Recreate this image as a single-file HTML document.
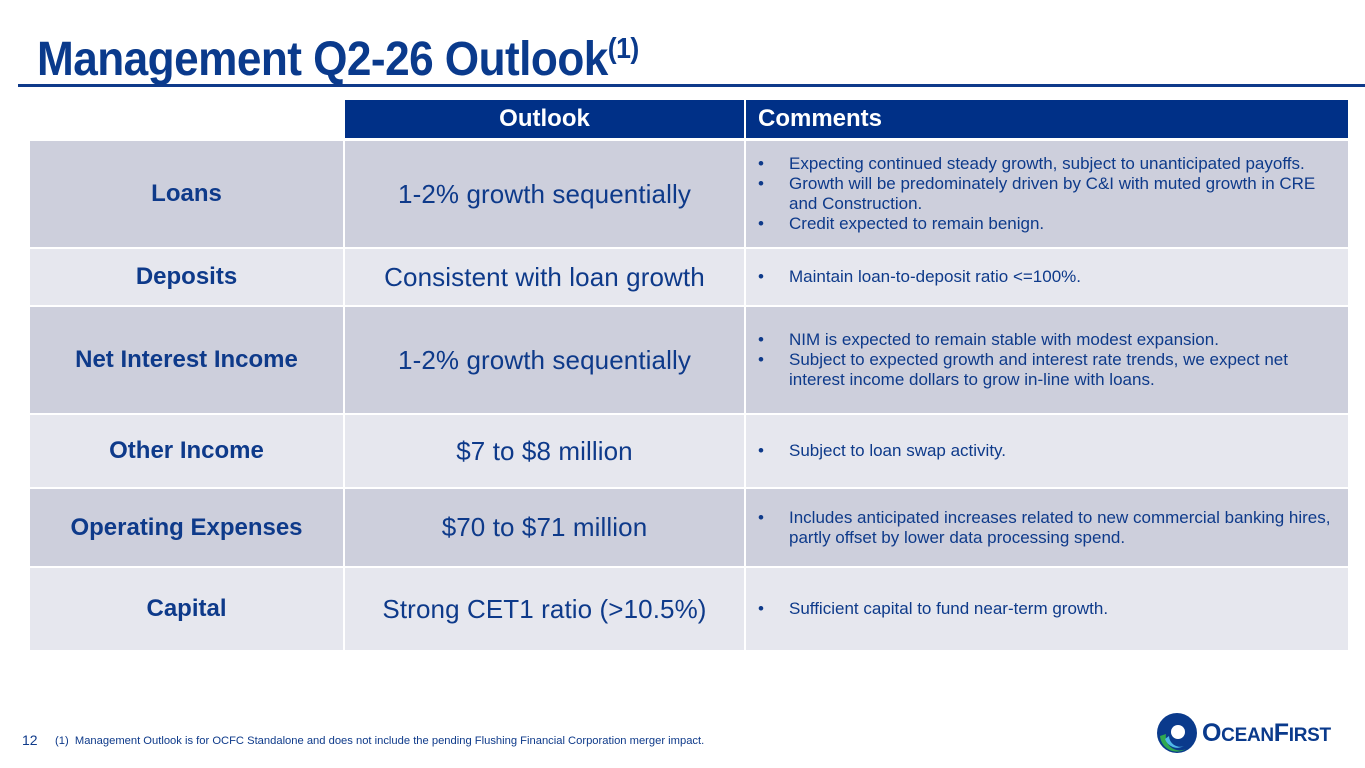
<!DOCTYPE html>
<html><head><meta charset="utf-8"><style>
*{margin:0;padding:0;box-sizing:border-box}
body{width:1365px;height:768px;background:#fff;font-family:"Liberation Sans",sans-serif;color:#0e3a8a;position:relative;overflow:hidden}
.title{position:absolute;left:37px;top:32px;font-weight:bold;font-size:48px;color:#0a3a8c;letter-spacing:-0.6px;white-space:nowrap;transform:scaleX(0.92);transform-origin:left top}
.title sup{font-size:29px;vertical-align:17px}
.rule{position:absolute;left:18px;top:84px;width:1347px;height:3px;background:#0e3a8a}
.cell{position:absolute;display:flex;align-items:center}
.hdr{background:#003087;color:#fff;font-weight:bold;font-size:24px}
.dark{background:#cdcfdc}.light{background:#e6e7ee}
.lab{justify-content:center;font-weight:bold;font-size:24px}
.out{justify-content:center;font-size:26px;letter-spacing:0.1px}
.com{font-size:17px;line-height:20px;padding-left:12px;padding-right:8px}
.com ul{list-style:none}
.com li{position:relative;padding-left:31px}
.com li:before{content:"•";position:absolute;left:0}
.foot{position:absolute;top:735px;font-size:11.2px;color:#0e3a8a;white-space:nowrap}
</style></head><body>
<div class="title">Management Q2-26 Outlook<sup>(1)</sup></div>
<div class="rule"></div>

<div class="cell hdr" style="left:345px;top:100px;width:399px;height:38px;justify-content:center">Outlook</div>
<div class="cell hdr" style="left:746px;top:100px;width:602px;height:38px;padding-left:12px">Comments</div>

<div class="cell dark lab" style="left:30px;top:141px;width:313px;height:106px">Loans</div>
<div class="cell dark out" style="left:345px;top:141px;width:399px;height:106px">1-2% growth sequentially</div>
<div class="cell dark com" style="left:746px;top:141px;width:602px;height:106px"><ul><li>Expecting continued steady growth, subject to unanticipated payoffs.</li><li>Growth will be predominately driven by C&amp;I with muted growth in CRE and Construction.</li><li>Credit expected to remain benign.</li></ul></div>

<div class="cell light lab" style="left:30px;top:249px;width:313px;height:56px">Deposits</div>
<div class="cell light out" style="left:345px;top:249px;width:399px;height:56px">Consistent with loan growth</div>
<div class="cell light com" style="left:746px;top:249px;width:602px;height:56px"><ul><li>Maintain loan-to-deposit ratio &lt;=100%.</li></ul></div>

<div class="cell dark lab" style="left:30px;top:307px;width:313px;height:106px">Net Interest Income</div>
<div class="cell dark out" style="left:345px;top:307px;width:399px;height:106px">1-2% growth sequentially</div>
<div class="cell dark com" style="left:746px;top:307px;width:602px;height:106px"><ul><li>NIM is expected to remain stable with modest expansion.</li><li>Subject to expected growth and interest rate trends, we expect net interest income dollars to grow in-line with loans.</li></ul></div>

<div class="cell light lab" style="left:30px;top:415px;width:313px;height:72px">Other Income</div>
<div class="cell light out" style="left:345px;top:415px;width:399px;height:72px">$7 to $8 million</div>
<div class="cell light com" style="left:746px;top:415px;width:602px;height:72px"><ul><li>Subject to loan swap activity.</li></ul></div>

<div class="cell dark lab" style="left:30px;top:489px;width:313px;height:77px">Operating Expenses</div>
<div class="cell dark out" style="left:345px;top:489px;width:399px;height:77px">$70 to $71 million</div>
<div class="cell dark com" style="left:746px;top:489px;width:602px;height:77px"><ul><li>Includes anticipated increases related to new commercial banking hires, partly offset by lower data processing spend.</li></ul></div>

<div class="cell light lab" style="left:30px;top:568px;width:313px;height:82px">Capital</div>
<div class="cell light out" style="left:345px;top:568px;width:399px;height:82px">Strong CET1 ratio (&gt;10.5%)</div>
<div class="cell light com" style="left:746px;top:568px;width:602px;height:82px"><ul><li>Sufficient capital to fund near-term growth.</li></ul></div>

<div class="foot" style="left:22px;font-size:14px;top:732px">12</div>
<div class="foot" style="left:55px">(1)&nbsp; Management Outlook is for OCFC Standalone and does not include the pending Flushing Financial Corporation merger impact.</div>

<div style="position:absolute;left:1156px;top:712px;width:190px;height:42px">
<svg width="42" height="42" viewBox="0 0 42 42" style="position:absolute;left:0;top:0">
<circle cx="21" cy="21" r="20" fill="#0a3a8c"/>
<path d="M4 24 A17 17 0 0 0 30 37 A14 14 0 0 1 10 22 Z" fill="#2fa84f"/>
<path d="M9 27 A13 13 0 0 0 28 34 A11 11 0 0 1 13 24 Z" fill="#4fb8e8"/>
<circle cx="22" cy="20" r="7" fill="#fff"/>
</svg>
<div style="position:absolute;left:46px;top:7px;font-weight:bold;font-size:25px;color:#0a3a8c;letter-spacing:-0.3px;white-space:nowrap">O<span style="font-size:19px">CEAN</span>F<span style="font-size:19px">IRST</span></div>
</div>
</body></html>
